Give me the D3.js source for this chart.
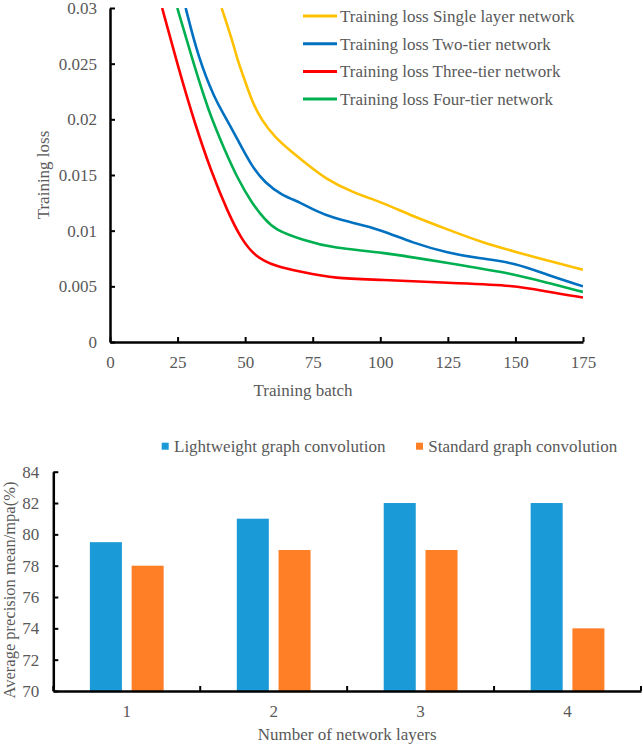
<!DOCTYPE html>
<html>
<head>
<meta charset="utf-8">
<script src="https://cdn.jsdelivr.net/npm/d3@7"></script>
<style>
  body { margin: 0; background: #fff; }
  svg text { font-family: "Liberation Serif", serif; fill: #595959; }
</style>
</head>
<body>
<script>
// ---- data: training loss curves (batch, loss) ----
let lossNames = ["Training loss Single layer network", "Training loss Two-tier network",
                 "Training loss Three-tier network", "Training loss Four-tier network"]
let lossColors = ["#FFC000", "#0070C0", "#FF0000", "#00B050"]

let singleLayer = [[41.3,0.030],[45.6,0.0268],[47.2,0.0253],[49.9,0.0235],[52.4,0.0217],[56.1,0.0199],
  [61,0.0184],[67.1,0.0171],[73.3,0.0159],[79.5,0.0147],[90,0.0134],[100,0.0126],[112,0.0113],
  [125,0.0101],[137,0.0090],[150,0.0081],[162,0.0073],[175,0.0065]]
let twoTier = [[28,0.030],[32.6,0.0256],[38.8,0.0218],[42.5,0.0203],[47.4,0.0181],[52.4,0.0158],
  [57.3,0.0143],[63.4,0.0132],[70.8,0.0125],[75.8,0.0118],[83.1,0.0111],[90,0.0107],[100,0.0101],
  [112,0.0089],[125,0.0080],[137,0.0075],[150,0.0071],[162,0.0060],[175,0.0050]]
let threeTier = [[19.3,0.030],[25.2,0.0247],[31.4,0.0196],[37.6,0.0152],[43.7,0.0116],[48.7,0.0092],
  [53.6,0.0077],[61,0.0068],[70.8,0.0063],[83.1,0.0057],[100,0.0056],[125,0.0053],[150,0.0051],
  [162,0.0045],[175,0.0040]]
let fourTier = [[24.9,0.030],[30.2,0.0256],[36.3,0.0208],[42.5,0.0172],[47.4,0.0146],[52.4,0.0125],
  [57.3,0.0110],[61,0.0101],[70.8,0.0092],[83.1,0.0084],[100,0.0081],[125,0.0071],[150,0.0061],
  [162,0.0053],[175,0.0045]]

let batchTicks = [0, 25, 50, 75, 100, 125, 150, 175]
let lossTicks = [0, 0.005, 0.01, 0.015, 0.02, 0.025, 0.03]

// ---- data: precision bars ----
let layers = ["1", "2", "3", "4"]
let barNames = ["Lightweight graph convolution", "Standard graph convolution"]
let barColors = ["#1A9AD6", "#FE7F26"]
let lightweight = [79.5, 81, 82, 82]
let standard = [78, 79, 79, 74]
let precisionTicks = [70, 72, 74, 76, 78, 80, 82, 84]

let width = 643
let height = 746
let serif = 'Liberation Serif'

let svg = d3.select('body').append('svg')
    .attr('width', width)
    .attr('height', height)
    .attr('font-family', serif)

// ================= top chart =================
let xTop = d3.scaleLinear().domain([0, 175]).range([110, 583])
let yTop = d3.scaleLinear().domain([0, 0.03]).range([342, 8])

let lossChart = svg.append('g')

lossChart.append('clipPath').attr('id', 'clipTop')
  .append('rect')
    .attr('x', xTop(0)).attr('y', yTop(0.03))
    .attr('width', xTop(175) - xTop(0)).attr('height', yTop(0) - yTop(0.03))

let line = d3.line()
    .x(d => xTop(d[0]))
    .y(d => yTop(d[1]))
    .curve(d3.curveBasis)

let series = [singleLayer, twoTier, threeTier, fourTier]

lossChart.append('g').attr('clip-path', 'url(#clipTop)')
  .selectAll('path')
  .data(series)
  .enter().append('path')
    .attr('d', line)
    .attr('fill', 'none')
    .attr('stroke', (d, i) => lossColors[i])
    .attr('stroke-width', 2.6)

let yAxisTop = lossChart.append('g')
    .attr('transform', 'translate(' + xTop(0) + ',0)')
    .call(d3.axisLeft(yTop).tickValues(lossTicks).tickSize(-5).tickSizeOuter(0).tickPadding(13)
      .tickFormat(d => d === 0 ? '0' : String(+d.toFixed(3))))

let xAxisTop = lossChart.append('g')
    .attr('transform', 'translate(0,' + yTop(0) + ')')
    .call(d3.axisBottom(xTop).tickValues(batchTicks).tickSize(-5).tickSizeOuter(0).tickPadding(14))

;[yAxisTop, xAxisTop].forEach(ax => {
  ax.attr('font-family', serif).attr('font-size', 17)
  ax.select('.domain').attr('stroke', '#000').attr('stroke-width', 2.5)
  ax.selectAll('.tick line').attr('stroke', '#000').attr('stroke-width', 2)
  ax.selectAll('text').attr('font-family', serif).attr('fill', '#595959')
})

lossChart.append('text')
    .attr('transform', 'translate(49,175) rotate(-90)')
    .attr('text-anchor', 'middle')
    .attr('font-size', 17)
    .text('Training loss')

lossChart.append('text')
    .attr('x', 303).attr('y', 396)
    .attr('text-anchor', 'middle')
    .attr('font-size', 17)
    .text('Training batch')

let legendTop = lossChart.selectAll('.legend-top')
    .data(lossNames)
    .enter().append('g')
    .attr('class', 'legend-top')
    .attr('transform', (d, i) => 'translate(303,' + (16 + i * 27.7) + ')')

legendTop.append('line')
    .attr('x1', 0).attr('x2', 34)
    .attr('stroke', (d, i) => lossColors[i])
    .attr('stroke-width', 3)

legendTop.append('text')
    .attr('x', 37).attr('y', 6)
    .attr('font-size', 17)
    .text(d => d)

// ================= bottom chart =================
let xB = d3.scaleBand().domain(layers).range([53.3, 641])
let xSub = d3.scaleBand().domain([0, 1]).range([0, xB.bandwidth()])
    .paddingInner(0.233).paddingOuter(0.876)
let yB = d3.scaleLinear().domain([70, 84]).range([691, 471.7])

let barChart = svg.append('g')

let groups = barChart.selectAll('.layer')
    .data(layers)
    .enter().append('g')
    .attr('class', 'layer')
    .attr('transform', d => 'translate(' + xB(d) + ',0)')

groups.selectAll('rect')
    .data((d, i) => [lightweight[i], standard[i]])
    .enter().append('rect')
    .attr('x', (d, j) => xSub(j))
    .attr('y', d => yB(d))
    .attr('width', xSub.bandwidth())
    .attr('height', d => yB(70) - yB(d))
    .attr('fill', (d, j) => barColors[j])

let yAxisB = barChart.append('g')
    .attr('transform', 'translate(' + xB.range()[0] + ',0)')
    .call(d3.axisLeft(yB).tickValues(precisionTicks).tickSize(-5).tickSizeOuter(0).tickPadding(14))

let xAxisB = barChart.append('g')
    .attr('transform', 'translate(0,' + yB(70) + ')')
    .call(d3.axisBottom(xB).tickSize(0).tickPadding(14))

// category boundary ticks
xAxisB.selectAll('.bound')
    .data(layers.map(d => xB(d)).concat([xB.range()[1]]))
    .enter().append('line')
    .attr('class', 'bound')
    .attr('x1', d => d).attr('x2', d => d)
    .attr('y1', 0).attr('y2', -5)
    .attr('stroke', '#000').attr('stroke-width', 2)

;[yAxisB, xAxisB].forEach(ax => {
  ax.attr('font-family', serif).attr('font-size', 17)
  ax.select('.domain').attr('stroke', '#000').attr('stroke-width', 2.5)
  ax.selectAll('.tick line').attr('stroke', '#000').attr('stroke-width', 2)
  ax.selectAll('text').attr('font-family', serif).attr('fill', '#595959')
})

barChart.append('text')
    .attr('transform', 'translate(15,590) rotate(-90)')
    .attr('text-anchor', 'middle')
    .attr('font-size', 16.5)
    .text('Average precision mean/mpa(%)')

barChart.append('text')
    .attr('x', (xB.range()[0] + xB.range()[1]) / 2).attr('y', 740)
    .attr('text-anchor', 'middle')
    .attr('font-size', 17)
    .text('Number of network layers')

let legendB = barChart.selectAll('.legend-b')
    .data(barNames)
    .enter().append('g')
    .attr('class', 'legend-b')
    .attr('transform', (d, i) => 'translate(' + [161.7, 416][i] + ',442.7)')

legendB.append('rect')
    .attr('width', 7).attr('height', 7)
    .attr('fill', (d, i) => barColors[i])

legendB.append('text')
    .attr('x', 12.3).attr('y', 9.5)
    .attr('font-size', 17)
    .text(d => d)
</script>
</body>
</html>
